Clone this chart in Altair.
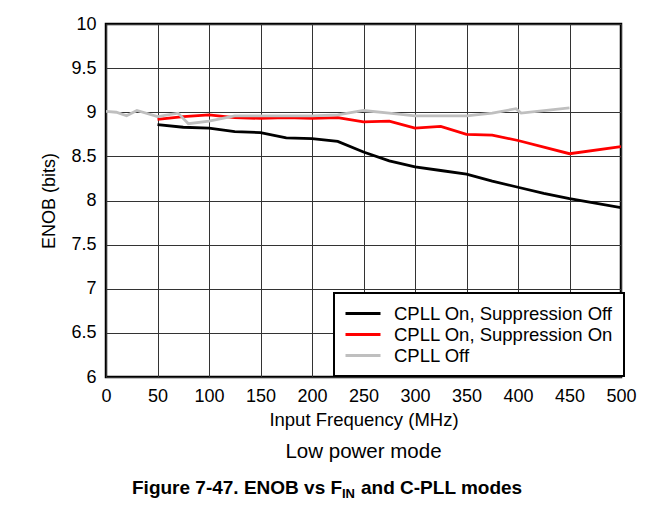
import altair as alt
import pandas as pd

FONT = "Liberation Sans"

series_names = ["CPLL On, Suppression Off", "CPLL On, Suppression On", "CPLL Off"]
series_colors = ["#000000", "#ff0000", "#bfbfbf"]

black_x = [50, 75, 100, 125, 150, 175, 200, 225, 250, 275, 300, 325, 350, 375, 400, 425, 450, 500]
black_y = [8.86, 8.83, 8.82, 8.78, 8.77, 8.71, 8.70, 8.67, 8.55, 8.45, 8.38, 8.34, 8.30, 8.22, 8.15, 8.08, 8.02, 7.92]

red_x = [50, 75, 100, 125, 150, 175, 200, 225, 250, 275, 300, 325, 350, 375, 400, 450, 500]
red_y = [8.92, 8.95, 8.97, 8.94, 8.93, 8.94, 8.93, 8.94, 8.89, 8.90, 8.82, 8.84, 8.75, 8.74, 8.68, 8.53, 8.61]

gray_x = [0, 10, 20, 30, 50, 70, 80, 100, 125, 150, 200, 225, 250, 275, 300, 350, 375, 398, 403, 450]
gray_y = [9.01, 9.00, 8.96, 9.02, 8.95, 8.99, 8.87, 8.90, 8.96, 8.96, 8.96, 8.97, 9.02, 8.99, 8.96, 8.96, 8.99, 9.04, 8.99, 9.05]

x_ticks = [0, 50, 100, 150, 200, 250, 300, 350, 400, 450, 500]
y_ticks = [6, 6.5, 7, 7.5, 8, 8.5, 9, 9.5, 10]

rows = []
for order, (name, xs, ys) in enumerate(zip(series_names, [black_x, red_x, gray_x], [black_y, red_y, gray_y])):
    for i, (xv, yv) in enumerate(zip(xs, ys)):
        rows.append({"series": name, "freq": xv, "enob": yv, "k": order, "i": i})
df = pd.DataFrame(rows)

W, H = 515, 353

lines = alt.Chart(df).mark_line(strokeWidth=2.8, clip=True).encode(
    x=alt.X("freq:Q",
            scale=alt.Scale(domain=[0, 500], nice=False),
            axis=alt.Axis(values=x_ticks, title="Input Frequency (MHz)", labelFontSize=18,
                          titleFontSize=18.5, titleFontWeight="normal", labelPadding=10,
                          titlePadding=5, ticks=False, domain=False, gridColor="#333333",
                          gridWidth=1, gridOpacity=1, labelFont=FONT, titleFont=FONT,
                          labelColor="#000", titleColor="#000", format="d",
                          labelOverlap=False, labelFlush=False)),
    y=alt.Y("enob:Q",
            scale=alt.Scale(domain=[6, 10], nice=False, zero=False),
            axis=alt.Axis(values=y_ticks, title="ENOB (bits)", labelFontSize=18,
                          titleFontSize=18, titleFontWeight="normal", labelPadding=10,
                          titlePadding=12, ticks=False, domain=False, gridColor="#333333",
                          gridWidth=1, gridOpacity=1, labelFont=FONT, titleFont=FONT,
                          labelColor="#000", titleColor="#000", format="~g",
                          labelOverlap=False, labelFlush=False)),
    color=alt.Color("series:N",
                    scale=alt.Scale(domain=series_names, range=series_colors),
                    sort=series_names,
                    legend=alt.Legend(title=None, orient="none", legendX=228, legendY=269,
                                      symbolType="stroke", symbolSize=1225, symbolStrokeWidth=3,
                                      labelFontSize=18.5, labelFont=FONT, labelColor="#000",
                                      labelOffset=12, padding=10, strokeColor="#000",
                                      fillColor="#ffffff", rowPadding=0, labelLimit=0,
                                      clipHeight=21)),
    detail="series:N",
    order=alt.Order("i:Q"),
)

sub1 = alt.Chart().mark_text(text="Low power mode", fontSize=20.5, font=FONT, align="center",
                              baseline="alphabetic", color="#000").encode(
    x=alt.value(W / 2), y=alt.value(434))

cap_a = alt.Chart().mark_text(text="Figure 7-47. ENOB vs F", fontSize=19, fontWeight="bold",
                               font=FONT, align="left", baseline="alphabetic", color="#000").encode(
    x=alt.value(26), y=alt.value(470))
cap_b = alt.Chart().mark_text(text="IN", fontSize=13, fontWeight="bold",
                               font=FONT, align="left", baseline="alphabetic", color="#000").encode(
    x=alt.value(236), y=alt.value(474))
cap_c = alt.Chart().mark_text(text="and C-PLL modes", fontSize=19, fontWeight="bold",
                               font=FONT, align="left", baseline="alphabetic", color="#000").encode(
    x=alt.value(255), y=alt.value(470))

chart = alt.layer(lines, sub1, cap_a, cap_b, cap_c).properties(
    width=W, height=H,
    autosize=alt.AutoSizeParams(type="none"),
    padding={"left": 98, "top": 16, "right": 20, "bottom": 128},
).configure_view(stroke="#000000", strokeWidth=2.5).configure_legend(strokeWidth=2)

chart.save("out.html", embed_options={"renderer": "svg", "actions": False})
